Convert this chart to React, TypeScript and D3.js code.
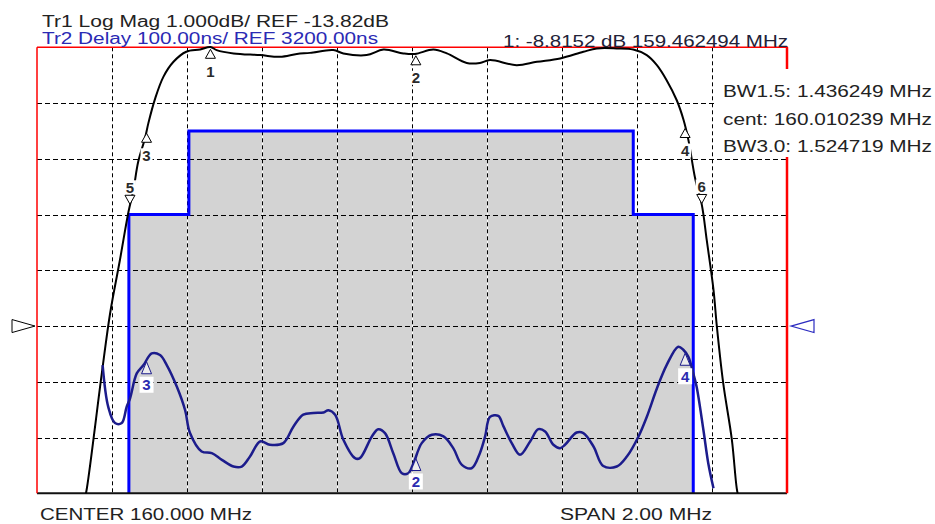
import * as d3 from 'd3';
import { useEffect, useRef } from 'react';

// Tr1 log magnitude trace (MHz, dB)
const magFreq = [159.125, 159.133, 159.173, 159.195, 159.221, 159.244, 159.257, 159.270, 159.288,
  159.297, 159.315, 159.337, 159.364, 159.398, 159.435, 159.4625, 159.479, 159.524, 159.595,
  159.648, 159.693, 159.728, 159.790, 159.817, 159.879, 159.924, 159.977, 160.008, 160.057,
  160.093, 160.146, 160.181, 160.208, 160.279, 160.333, 160.395, 160.457, 160.493, 160.546,
  160.590, 160.626, 160.653, 160.679, 160.706, 160.724, 160.737, 160.755, 160.773, 160.786,
  160.804, 160.813, 160.830, 160.853, 160.866, 160.874];
const magDb = [-17.0, -16.73, -14.66, -13.59, -12.64, -11.77, -11.38, -10.87, -10.45,
  -10.18, -9.74, -9.35, -9.08, -8.90, -8.86, -8.815, -8.87, -8.93, -8.96,
  -8.99, -8.94, -8.92, -8.87, -8.93, -8.96, -8.86, -8.93, -8.94, -8.86,
  -8.93, -9.10, -9.10, -9.05, -9.14, -9.08, -9.02, -8.90, -8.84, -8.84,
  -8.86, -8.96, -9.14, -9.41, -9.77, -10.12, -10.48, -11.17, -11.65, -12.28,
  -13.17, -13.83, -14.85, -15.86, -16.73, -17.0];

// Tr2 group delay trace (MHz, ns)
const delayFreq = [159.175, 159.190, 159.208, 159.226, 159.239, 159.248, 159.266, 159.284, 159.306, 159.328,
  159.346, 159.373, 159.395, 159.408, 159.439, 159.466, 159.493, 159.524, 159.546, 159.568,
  159.595, 159.621, 159.657, 159.684, 159.710, 159.737, 159.764, 159.777, 159.795, 159.817,
  159.848, 159.861, 159.893, 159.910, 159.928, 159.950, 159.973, 159.990, 160.004, 160.026,
  160.053, 160.084, 160.110, 160.133, 160.159, 160.181, 160.195, 160.208, 160.230, 160.244,
  160.266, 160.288, 160.315, 160.337, 160.355, 160.377, 160.395, 160.408, 160.439, 160.457,
  160.484, 160.510, 160.546, 160.573, 160.604, 160.626, 160.653, 160.679, 160.710, 160.724,
  160.737, 160.750, 160.759, 160.777, 160.790, 160.804];
const delayNs = [3130, 3055, 3026, 3026, 3055, 3070, 3115, 3130, 3151, 3148,
  3130, 3091, 3049, 3008, 2975, 2972, 2960, 2948, 2948, 2966,
  2993, 2987, 2990, 3020, 3041, 3044, 3045, 3049, 3041, 2996,
  2963, 2963, 3002, 3015, 3008, 2972, 2936, 2936, 2954, 2990,
  3005, 3002, 2981, 2951, 2945, 2972, 3002, 3037, 3039, 3020,
  2990, 2969, 2993, 3015, 3011, 2987, 2981, 2987, 3009, 3008,
  2984, 2949, 2948, 2966, 3002, 3037, 3088, 3130, 3163, 3157,
  3145, 3115, 3091, 3014, 2954, 2909];

// delay limit mask (MHz, ns)
const maskFreq = [159.245, 159.245, 159.405, 159.405, 160.59, 160.59, 160.75, 160.75];
const maskNs = [2900, 3400, 3400, 3550, 3550, 3400, 3400, 2900];

// markers
const markerNames = ['1', '2', '3', '4', '5', '6'];
const markerFreq = [159.462494, 160.010239, 159.292115, 160.728364, 159.247880, 160.772599];
const delayMarkerNames = ['2', '3', '4'];
const delayMarkerFreq = [160.010239, 159.292115, 160.728364];

// scale settings
const centerMHz = 160.0;
const spanMHz = 2.0;
const magRef = -13.82;
const magPerDiv = 1.0;
const delayRef = 3200;
const delayPerDiv = 100;

const headerLines = ['Tr1 Log Mag 1.000dB/  REF -13.82dB', 'Tr2 Delay 100.00ns/ REF 3200.00ns'];
const markerReadout = '1: -8.8152 dB 159.462494 MHz';
const bwLines = ['BW1.5: 1.436249 MHz', 'cent: 160.010239 MHz', 'BW3.0: 1.524719 MHz'];
const footerLeft = 'CENTER 160.000 MHz';
const footerRight = 'SPAN 2.00 MHz';

const FONT = '"Liberation Sans", Arial, sans-serif';

function interp(fs: number[], vs: number[], f: number) {
  const i = Math.max(1, Math.min(fs.length - 1, d3.bisectLeft(fs, f)));
  const t = (f - fs[i - 1]) / (fs[i] - fs[i - 1]);
  return vs[i - 1] + t * (vs[i] - vs[i - 1]);
}

export default function App() {
  const ref = useRef<SVGSVGElement>(null);

  const left = 37, right = 787, top = 47.3, bottom = 493.3;

  useEffect(() => {
    drawChart();
  }, []);

  function drawChart() {
    const svg = d3.select(ref.current);
    svg.selectAll('*').remove();

    const x = d3.scaleLinear()
      .domain([centerMHz - spanMHz / 2, centerMHz + spanMHz / 2])
      .range([left, right]);
    const yMag = d3.scaleLinear()
      .domain([magRef - 3 * magPerDiv, magRef + 5 * magPerDiv])
      .range([bottom, top]);
    const yDel = d3.scaleLinear()
      .domain([delayRef - 3 * delayPerDiv, delayRef + 5 * delayPerDiv])
      .range([bottom, top]);

    svg.append('rect').attr('width', 935).attr('height', 524).attr('fill', '#fff');

    svg.append('clipPath').attr('id', 'plot-clip')
      .append('rect')
      .attr('x', left).attr('y', 0)
      .attr('width', right - left).attr('height', bottom);

    // gray mask area
    const maskIdx = d3.range(maskFreq.length);
    svg.append('path')
      .attr('fill', '#d3d3d3')
      .attr('d', d3.area<number>()
        .x(i => x(maskFreq[i]))
        .y0(bottom)
        .y1(i => yDel(maskNs[i]))(maskIdx));

    // grid
    const grid = svg.append('g');
    d3.range(1, 10).forEach(i => {
      const gx = Math.round(x(x.domain()[0] + i * spanMHz / 10)) + 0.5;
      grid.append('line').attr('x1', gx).attr('x2', gx).attr('y1', top).attr('y2', bottom)
        .attr('stroke', '#fff').attr('stroke-width', 1);
      grid.append('line').attr('x1', gx).attr('x2', gx).attr('y1', top).attr('y2', bottom)
        .attr('stroke', '#000').attr('stroke-width', 1).attr('stroke-dasharray', '4,3');
    });
    d3.range(1, 8).forEach(i => {
      const gy = Math.round(yMag(yMag.domain()[0] + i * magPerDiv)) + 0.5;
      grid.append('line').attr('x1', left).attr('x2', right).attr('y1', gy).attr('y2', gy)
        .attr('stroke', '#000').attr('stroke-width', 1).attr('stroke-dasharray', '5,3');
    });

    // mask outline
    svg.append('path')
      .attr('fill', 'none')
      .attr('stroke', '#0000ff')
      .attr('stroke-width', 3)
      .attr('d', d3.line<number>()
        .x(i => x(maskFreq[i]))
        .y(i => yDel(maskNs[i]))(maskIdx));

    // frame
    svg.append('line').attr('x1', left).attr('x2', right).attr('y1', bottom).attr('y2', bottom)
      .attr('stroke', '#111').attr('stroke-width', 2);
    svg.append('line').attr('x1', left).attr('x2', left).attr('y1', top).attr('y2', bottom)
      .attr('stroke', '#ff0000').attr('stroke-width', 1.5);
    svg.append('line').attr('x1', left).attr('x2', right + 1).attr('y1', top).attr('y2', top)
      .attr('stroke', '#ff0000').attr('stroke-width', 1.5);
    svg.append('line').attr('x1', right).attr('x2', right).attr('y1', top).attr('y2', bottom)
      .attr('stroke', '#ff0000').attr('stroke-width', 2.5);

    // traces
    const magIdx = d3.range(magFreq.length);
    svg.append('path')
      .attr('clip-path', 'url(#plot-clip)')
      .attr('fill', 'none')
      .attr('stroke', '#000')
      .attr('stroke-width', 2)
      .attr('stroke-linejoin', 'round')
      .attr('d', d3.line<number>()
        .x(i => x(magFreq[i]))
        .y(i => yMag(magDb[i]))
        .curve(d3.curveCatmullRom.alpha(0.5))(magIdx));

    const delIdx = d3.range(delayFreq.length);
    svg.append('path')
      .attr('clip-path', 'url(#plot-clip)')
      .attr('fill', 'none')
      .attr('stroke', '#1c1c8c')
      .attr('stroke-width', 2.5)
      .attr('stroke-linejoin', 'round')
      .attr('d', d3.line<number>()
        .x(i => x(delayFreq[i]))
        .y(i => yDel(delayNs[i]))
        .curve(d3.curveCatmullRom.alpha(0.5))(delIdx));

    // Tr1 markers
    const mk = svg.append('g');
    markerNames.forEach((name, i) => {
      const mx = x(markerFreq[i]);
      const my = Math.max(top, yMag(interp(magFreq, magDb, markerFreq[i])));
      const down = i >= 4;
      const tip = down ? my - 1 : my + 2;
      const base = down ? tip - 9 : tip + 9;
      const ly = down ? tip - 17 : tip + 22;
      mk.append('rect').attr('x', mx - 6).attr('y', ly - 7).attr('width', 12).attr('height', 14).attr('fill', '#fff');
      mk.append('text').attr('x', mx).attr('y', ly + 5.5).attr('text-anchor', 'middle')
        .attr('font-family', FONT).attr('font-size', 15).attr('font-weight', 'bold')
        .attr('fill', '#2a2a2a').text(name);
      mk.append('path')
        .attr('d', `M${mx},${tip}L${mx - 5},${base}L${mx + 5},${base}Z`)
        .attr('fill', '#fff').attr('stroke', '#000').attr('stroke-width', 1);
    });

    // Tr2 markers
    const dmk = svg.append('g').attr('clip-path', 'url(#plot-clip)');
    delayMarkerNames.forEach((name, i) => {
      const mx = x(delayMarkerFreq[i]);
      const my = yDel(interp(delayFreq, delayNs, delayMarkerFreq[i]));
      const tip = my + 1;
      const base = tip + 12;
      const ly = tip + 23;
      dmk.append('rect').attr('x', mx - 7).attr('y', ly - 8).attr('width', 14).attr('height', 16).attr('fill', '#fff');
      dmk.append('text').attr('x', mx).attr('y', ly + 5.5).attr('text-anchor', 'middle')
        .attr('font-family', FONT).attr('font-size', 15).attr('font-weight', 'bold')
        .attr('fill', '#2b2bb0').text(name);
      dmk.append('path')
        .attr('d', `M${mx},${tip}L${mx - 5},${base}L${mx + 5},${base}Z`)
        .attr('fill', '#fff').attr('fill-opacity', 0.6).attr('stroke', '#1c1c8c').attr('stroke-width', 1);
    });

    // reference position triangles
    const refY = yMag(magRef);
    svg.append('path')
      .attr('d', `M${left - 2},${refY}L${12},${refY - 6.5}L${12},${refY + 6.5}Z`)
      .attr('fill', '#fff').attr('stroke', '#000').attr('stroke-width', 1);
    const refY2 = yDel(delayRef);
    svg.append('path')
      .attr('d', `M${right + 4},${refY2}L${814},${refY2 - 6.5}L${814},${refY2 + 6.5}Z`)
      .attr('fill', '#fff').attr('stroke', '#2b2bc0').attr('stroke-width', 1.2);

    // annotation texts
    const txt = (s: string, tx: number, ty: number, len: number, color: string) =>
      svg.append('text').attr('x', tx).attr('y', ty)
        .attr('font-family', FONT).attr('font-size', 16)
        .attr('textLength', len).attr('lengthAdjust', 'spacingAndGlyphs')
        .attr('fill', color).text(s);

    txt(headerLines[0], 42, 26.5, 347, '#222');
    txt(headerLines[1], 42, 43.5, 336, '#2a2ab4');
    txt(markerReadout, 503, 46.5, 285, '#222238');

    svg.append('rect').attr('x', 716).attr('y', 69).attr('width', 219).attr('height', 88).attr('fill', '#fff');
    bwLines.forEach((s, i) => txt(s, 723, 97.3 + i * 27.2, 209, '#222'));

    txt(footerLeft, 40, 519.5, 212, '#222');
    txt(footerRight, 560, 519.5, 152, '#222');
  }

  return (
    <svg ref={ref} width={935} height={524}
      style={{ position: 'absolute', left: 0, top: 0, display: 'block' }} />
  );
}
